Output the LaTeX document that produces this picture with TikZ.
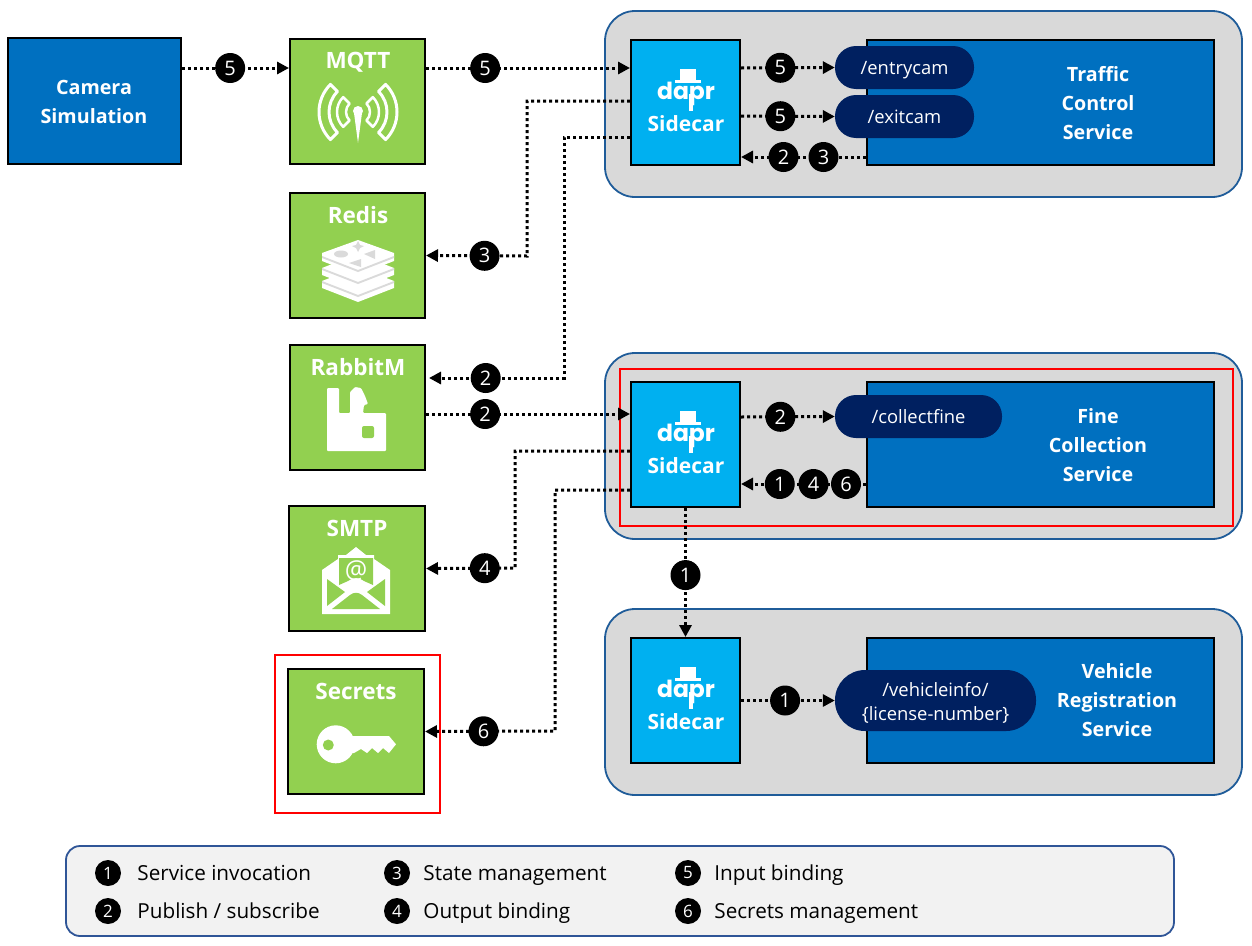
\documentclass[tikz,border=0pt]{standalone}
\usepackage{fontspec}
\setmainfont{Open Sans}
\newfontfamily\logofont{Poppins}
\usepackage{tikz}
\usetikzlibrary{arrows.meta,positioning,calc}

\definecolor{compgreen}{HTML}{92D050}
\definecolor{svcblue}{HTML}{0070C0}
\definecolor{sidecarblue}{HTML}{00B0F0}
\definecolor{pillnavy}{HTML}{002060}
\definecolor{groupgray}{HTML}{D9D9D9}
\definecolor{groupedge}{HTML}{1F5C99}
\definecolor{legendgray}{HTML}{F2F2F2}
\definecolor{legendedge}{HTML}{2F5597}
\definecolor{iconshade}{HTML}{DADADA}

\tikzset{
  groupbox/.style={draw=groupedge,fill=groupgray,line width=1.8pt,rounded corners=30pt,minimum width=637pt,minimum height=186pt},
  redbox/.style={draw=red,line width=1.8pt},
  compbox/.style={draw=black,fill=compgreen,line width=2pt,minimum width=135pt,minimum height=125pt},
  svcbox/.style={draw=black,fill=svcblue,line width=2pt,minimum width=347pt,minimum height=125pt},
  sidecarbox/.style={draw=black,fill=sidecarblue,line width=2pt,minimum width=109pt,minimum height=125pt},
  pill/.style={fill=pillnavy,rounded corners=21pt,minimum height=43pt,text=white,font=\fontsize{18.4}{24}\selectfont,align=center},
  boxtext/.style={text=white,font=\fontsize{19.7}{29}\selectfont\bfseries,align=center,inner sep=0pt},
  comptext/.style={text=white,font=\fontsize{22.5}{29}\selectfont\bfseries,inner sep=0pt},
  sidecartext/.style={text=white,font=\fontsize{21}{29}\selectfont\bfseries,inner sep=0pt},
  badge/.style={circle,fill=black,text=white,minimum size=30pt,inner sep=0pt,font=\fontsize{20}{20}\selectfont},
  legendbadge/.style={circle,fill=black,text=white,minimum size=26pt,inner sep=0pt,font=\fontsize{17}{17}\selectfont},
  legendtext/.style={font=\fontsize{20.7}{24}\selectfont,inner sep=0pt,text height=17pt,text depth=2pt},
  conn/.style={line width=3pt,dash pattern=on 3pt off 3pt,-{Triangle[length=12pt,width=12pt]}},
  pics/daprlogo/.style={code={
    \fill[white] (-6,-55) rectangle (10,-44);
    \fill[white] (-11,-44) rectangle (15,-41);
    \fill[white] (3,-30) rectangle (7,-13);
    \node[text=white,inner sep=0pt,font=\logofont\fontsize{23.5}{26}\selectfont\bfseries] (daprword) at (0,-30) {dapr};
  }}
}

\begin{document}
\begin{tikzpicture}[x=1pt,y=-1pt]
    \useasboundingbox (0,0) rectangle (1252,945);

    \node[groupbox] (groupA) at (923.5,104) {};
    \node[groupbox] (groupB) at (923.5,446) {};
    \node[groupbox] (groupC) at (923.5,702) {};
    \node[redbox,minimum width=613pt,minimum height=157pt] (finefocus) at (926.5,447.5) {};
    \node[redbox,minimum width=165pt,minimum height=158pt] (secretsfocus) at (357.5,734) {};

    \node[svcbox,minimum width=173pt,minimum height=126pt] (camera) at (94.5,101) {};
    \node[boxtext] (cameralabel) at (94,101.5) {Camera\\Simulation};

    \node[compbox] (mqtt) at (357.5,101.5) {};
    \node[compbox] (redis) at (357.5,255.5) {};
    \node[compbox] (rabbit) at (357.5,407.5) {};
    \node[compbox,minimum width=136pt] (smtp) at (357,568.5) {};
    \node[compbox,minimum width=136pt] (secrets) at (356,731.5) {};
    \node[comptext] (mqttlabel) at (358,62.5) {MQTT};
    \node[comptext] (redislabel) at (358,215) {Redis};
    \node[comptext] (rabbitlabel) at (358,367) {RabbitM};
    \node[comptext] (smtplabel) at (357,528) {SMTP};
    \node[comptext] (secretslabel) at (356,691) {Secrets};

    \begin{scope}[shift={(358,112)}]
      \draw[white,line width=3pt,line join=round] (45:29) arc (45:-45:29) -- (-45:39) arc (-45:45:39) -- cycle;
      \draw[white,line width=3pt,line join=round] (135:29) arc (135:225:29) -- (225:39) arc (225:135:39) -- cycle;
      \draw[white,line width=2.5pt,line join=round] (45:12) arc (45:-45:12) -- (-45:21) arc (-45:45:21) -- cycle;
      \draw[white,line width=2.5pt,line join=round] (135:12) arc (135:225:12) -- (225:21) arc (225:135:21) -- cycle;
      \fill[white] (0,-1) circle (5);
      \fill[white] (-4,1) -- (4,1) -- (0,31) -- cycle;
    \end{scope}

    \fill[white] (322,281) -- (358,267) -- (394,281) -- (394,288) -- (358,302) -- (322,288) -- cycle;
    \fill[iconshade] (322,281) -- (358,295) -- (394,281) -- (394,283) -- (358,297) -- (322,283) -- cycle;
    \fill[white] (322,268) -- (358,254) -- (394,268) -- (394,275) -- (358,289) -- (322,275) -- cycle;
    \fill[iconshade] (322,268) -- (358,282) -- (394,268) -- (394,270) -- (358,284) -- (322,270) -- cycle;
    \fill[white] (322,253) -- (358,240) -- (394,253) -- (394,261) -- (358,275) -- (322,261) -- cycle;
    \fill[iconshade] (322,256) -- (358,270) -- (394,256) -- (394,258) -- (358,272) -- (322,258) -- cycle;
    \fill[iconshade] (341,254) ellipse (7 and 3.5);
    \fill[iconshade] (358,241) -- (360,245) -- (364,246) -- (360,248) -- (358,252) -- (356,248) -- (352,246) -- (356,245) -- cycle;
    \fill[iconshade] (364,254) -- (375,250) -- (375,259) -- cycle;
    \fill[iconshade] (349,263) -- (361,259) -- (361,267) -- cycle;

    \fill[white,rounded corners=1pt] (327,388) -- (339,388) -- (339,413) -- (350,413) -- (350,392) -- (355,387) -- (361,388) -- (365,396) -- (368,404) -- (364,405) -- (363,413) -- (386,413) -- (386,451) -- (327,451) -- cycle;
    \fill[compgreen,rounded corners=2pt] (362,426) rectangle (374,438);

    \fill[white] (322,570) -- (338,559) -- (338,555) -- (346,555) -- (356,547) -- (366,555) -- (374,555) -- (374,559) -- (390,570) -- (390,614) -- (322,614) -- cycle;
    \fill[compgreen] (339,558) -- (373,558) -- (373,585) -- (364,581) .. controls (358,577) and (354,577) .. (348,581) -- (339,585) -- cycle;
    \fill[compgreen] (327,579) -- (345,592) -- (327,606) -- cycle;
    \fill[compgreen] (385,579) -- (367,592) -- (385,606) -- cycle;
    \fill[compgreen] (332,609) -- (350,595) .. controls (354,592) and (358,592) .. (362,595) -- (380,609) -- cycle;
    \node[text=white,inner sep=0pt,font=\fontsize{25}{25}\selectfont] (smtpat) at (356,571) {@};

    \fill[white] (335.7,744.3) circle (19);
    \fill[white] (350,736) -- (389,736) -- (396,744.3) -- (389,753) -- (383,748) -- (378,753) -- (372,748) -- (367,753) -- (361,749) -- (354,753) -- (350,753) -- cycle;
    \fill[compgreen] (328.3,745) circle (5.5);

    \node[sidecarbox] (sidecarA) at (685.5,102.5) {};
    \node[sidecarbox] (sidecarB) at (685.5,444.5) {};
    \node[sidecarbox] (sidecarC) at (685.5,700.5) {};
    \pic at (686,124) {daprlogo};
    \pic at (686,466) {daprlogo};
    \pic at (686,722) {daprlogo};
    \node[sidecartext] (sidecarlabelA) at (686,123.5) {Sidecar};
    \node[sidecartext] (sidecarlabelB) at (686,465.5) {Sidecar};
    \node[sidecartext] (sidecarlabelC) at (686,721.5) {Sidecar};

    \node[svcbox] (traffic) at (1040.5,102.5) {};
    \node[svcbox] (fine) at (1040.5,444.5) {};
    \node[svcbox] (vehicle) at (1040.5,700.5) {};
    \node[boxtext] (trafficlabel) at (1098,103) {Traffic\\Control\\Service};
    \node[boxtext] (finelabel) at (1098,445) {Fine\\Collection\\Service};
    \node[boxtext] (vehiclelabel) at (1117,700) {Vehicle\\Registration\\Service};

    \node[pill,minimum width=139pt,text height=17pt,text depth=3pt] (entrycam) at (904.5,67.5) {/entrycam};
    \node[pill,minimum width=139pt,text height=17pt,text depth=3pt] (exitcam) at (904.5,116.5) {/exitcam};
    \node[pill,minimum width=167pt,text height=17pt,text depth=3pt] (collectfine) at (918.5,416.5) {/collectfine};
    \node[pill,minimum width=201pt,minimum height=61pt,rounded corners=30pt] (vehicleinfo) at (935.5,700.5) {\rule{0pt}{18pt}/vehicleinfo/\\\{license-number\}};

    \draw[conn] ([yshift=33pt]camera.east) -- node[badge,pos=.45] {5} ([yshift=33.5pt]mqtt.west);
    \draw[conn] ([yshift=33.5pt]mqtt.east) -- node[badge,pos=.29] {5} ([yshift=34.5pt]sidecarA.west);
    \draw[conn] ([yshift=1.5pt]sidecarA.west) -- ++(-103,0) -- ++(0,155) -- node[badge,pos=.42] {3} (redis.east);
    \draw[conn] ([yshift=-34.5pt]sidecarA.west) -- ++(-66,0) -- ++(0,241) -- node[badge,pos=.58] {2} ([yshift=29.5pt,xshift=3pt]rabbit.east);
    \draw[conn] ([yshift=-6.5pt]rabbit.east) -- node[badge,pos=.29] {2} ([yshift=30.5pt]sidecarB.west);
    \draw[conn] ([yshift=-6.5pt]sidecarB.west) -- ++(-115,0) -- ++(0,117) -- node[badge,pos=.34] {4} (smtp.east);
    \draw[conn] ([yshift=-45.5pt]sidecarB.west) -- ++(-75,0) -- ++(0,241) -- node[badge,pos=.55] {6} (secrets.east);
    \draw[conn] (sidecarB.south) -- node[badge,pos=.52] {1} (sidecarC.north);
    \draw[conn] ([yshift=34.5pt]sidecarA.east) -- node[badge,pos=.42] {5} (entrycam.west);
    \draw[conn] ([yshift=-13.5pt]sidecarA.east) -- node[badge,pos=.42] {5} (exitcam.west);
    \draw[conn] ([yshift=-54.5pt]traffic.west) -- node[badge,pos=.66] {2} node[badge,pos=.34] {3} ([yshift=-54.5pt]sidecarA.east);
    \draw[conn] ([yshift=27.5pt]sidecarB.east) -- node[badge,pos=.42] {2} (collectfine.west);
    \draw[conn] ([yshift=-39.5pt]fine.west) -- node[badge,pos=.69] {1} node[badge,pos=.42] {4} node[badge,pos=.16] {6} ([yshift=-39.5pt]sidecarB.east);
    \draw[conn] (sidecarC.east) -- node[badge,pos=.47] {1} (vehicleinfo.west);

    \node[draw=legendedge,fill=legendgray,line width=1.8pt,rounded corners=14pt,minimum width=1108pt,minimum height=90pt] (legend) at (620,891) {};
    \node[legendbadge] (legendA) at (108,873) {1};
    \node[legendbadge] (legendB) at (108,911) {2};
    \node[legendbadge] (legendC) at (397,873) {3};
    \node[legendbadge] (legendD) at (397,911) {4};
    \node[legendbadge] (legendE) at (688,873) {5};
    \node[legendbadge] (legendF) at (688,911) {6};
    \node[legendtext,right=16pt of legendA] (legendtextA) {Service invocation};
    \node[legendtext,right=16pt of legendB] (legendtextB) {Publish / subscribe};
    \node[legendtext,right=13pt of legendC] (legendtextC) {State management};
    \node[legendtext,right=13pt of legendD] (legendtextD) {Output binding};
    \node[legendtext,right=13pt of legendE] (legendtextE) {Input binding};
    \node[legendtext,right=13pt of legendF] (legendtextF) {Secrets management};
\end{tikzpicture}
\end{document}
